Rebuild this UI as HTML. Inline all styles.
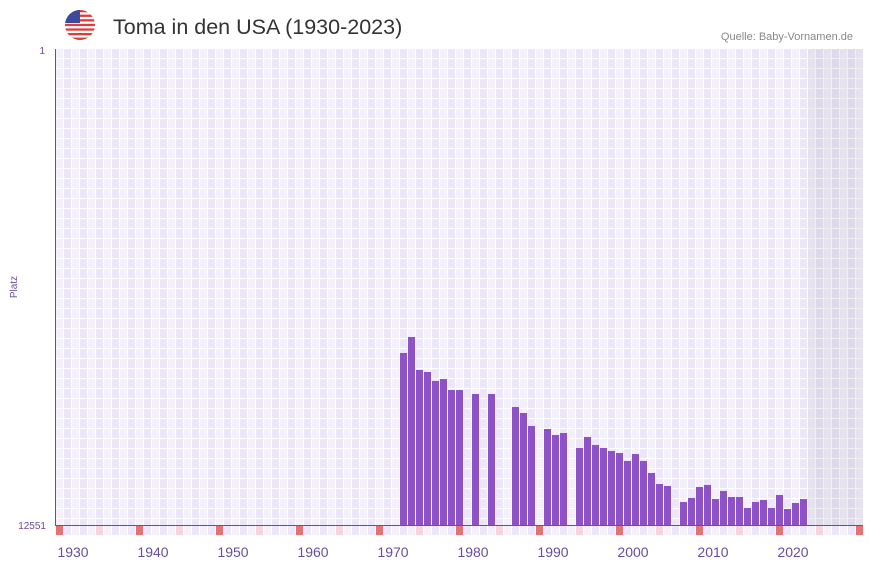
<!DOCTYPE html>
<html><head><meta charset="utf-8"><style>
body{margin:0;background:#fff;font-family:"Liberation Sans",sans-serif}
</style></head><body>
<svg id="c" width="873" height="567" xmlns="http://www.w3.org/2000/svg">
<defs><clipPath id="fc"><circle cx="80" cy="25" r="15"/></clipPath></defs>
<g clip-path="url(#fc)">
<rect x="65" y="10" width="30" height="30" fill="#fff"/>
<rect x="65" y="10" width="30" height="2.3" fill="#e23b3b"/>
<rect x="65" y="14.6" width="30" height="2.3" fill="#e23b3b"/>
<rect x="65" y="19.2" width="30" height="2.3" fill="#e23b3b"/>
<rect x="65" y="23.8" width="30" height="2.3" fill="#e23b3b"/>
<rect x="65" y="28.4" width="30" height="2.3" fill="#e23b3b"/>
<rect x="65" y="33" width="30" height="2.3" fill="#e23b3b"/>
<rect x="65" y="37.6" width="30" height="2.4" fill="#e23b3b"/>
<rect x="65" y="10" width="15" height="13" fill="#3b4a9c"/>
</g>
<text x="113" y="34" font-size="21.5" fill="#333">Toma in den USA (1930-2023)</text>
<text x="853" y="40" font-size="11" fill="#888" text-anchor="end">Quelle: Baby-Vornamen.de</text>
<text x="45" y="54" font-size="10" fill="#6a4c9c" text-anchor="end">1</text>
<text x="46" y="529" font-size="10" fill="#6a4c9c" text-anchor="end">12551</text>
<text x="17" y="287" font-size="10" fill="#6a4c9c" text-anchor="middle" transform="rotate(-90 17 287)">Platz</text>
<g id="grid"></g><g id="bars"></g><g id="marks"></g><g id="xt"></g>
<rect x="808" y="49" width="55" height="476" fill="rgba(140,130,150,0.13)"/>
<line x1="55.5" y1="49" x2="55.5" y2="525" stroke="#6a4c9c"/>
<line x1="55" y1="525.5" x2="863" y2="525.5" stroke="#6a4c9c"/>
</svg>
<script>
const years=[1971,1972,1973,1974,1975,1976,1977,1978,1980,1982,1985,1986,1987,1989,1990,1991,1993,1994,1995,1996,1997,1998,1999,2000,2001,2002,2003,2004,2006,2007,2008,2009,2010,2011,2012,2013,2014,2015,2016,2017,2018,2019,2020,2021];
const ranks=[8016,7594,8464,8517,8754,8702,8992,8992,9097,9097,9440,9598,9941,10020,10178,10125,10521,10231,10442,10521,10600,10653,10864,10679,10864,11180,11470,11523,11945,11839,11549,11496,11866,11655,11813,11813,12103,11945,11892,12103,11760,12129,11971,11866];
const xTicks=[1930,1940,1950,1960,1970,1980,1990,2000,2010,2020];
const NS="http://www.w3.org/2000/svg";
const y0=1928,X0=56,CW=8,TOP=49,BOT=525,RMAX=12551;
const xs=y=>X0+(y-y0)*CW;
const ys=r=>TOP+(r-1)/(RMAX-1)*(BOT-TOP);
function mk(t,a,p){const e=document.createElementNS(NS,t);for(const k in a)e.setAttribute(k,a[k]);p.appendChild(e);return e;}
const g=document.getElementById('grid');
for(let i=0;i<101;i++){
 const c=mk('rect',{x:X0+i*CW,y:TOP,width:CW,height:BOT-TOP,fill:i%2?'#ece7f8':'#f3f0fb'},g);
 
 
 mk('line',{x1:X0+i*CW+7.5,y1:TOP,x2:X0+i*CW+7.5,y2:BOT,stroke:'#fff'},g);
}
for(let y=TOP+9.5;y<BOT;y+=10){mk('line',{x1:X0,y1:y,x2:863,y2:y,stroke:'#fff'},g);}
const b=document.getElementById('bars');
years.forEach((yr,i)=>{
 const t=ys(ranks[i]);
 const r=mk('rect',{x:xs(yr),y:t,width:7,height:BOT-t,fill:'#8c52c6'},b);
 
 
});
const m=document.getElementById('marks');
for(let i=0;i<101;i++){
 const col=i%10==0?'#e57373':(i%10==5?'#f5d5de':(i%2?'#ece7f8':'#f3f0fb'));
 const r=mk('rect',{x:X0+i*CW,y:526,width:7,height:9,fill:col},m);
 
 
}
const xt=document.getElementById('xt');
xTicks.forEach(yr=>{
 const t=mk('text',{x:xs(yr)+1,y:557,'font-size':14,fill:'#6a4c9c','text-anchor':'middle'},xt);
 t.textContent=yr;
 
 
});
</script>
</body></html>
